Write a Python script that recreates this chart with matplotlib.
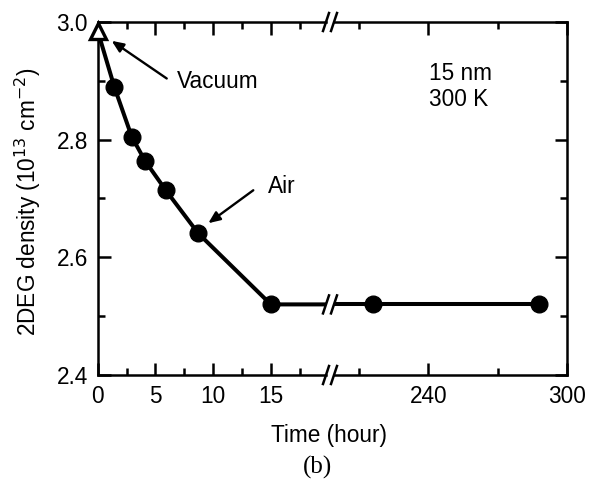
import matplotlib
matplotlib.use("Agg")
import matplotlib.pyplot as plt
from matplotlib.ticker import MultipleLocator

plt.rcParams["font.family"] = ["Liberation Sans", "DejaVu Sans"]

# data
vac_time = [0.0]
vac_density = [2.985]
air_time = [1.45, 2.95, 4.1, 5.9, 8.7, 15.0, 216.0, 288.0]
air_density = [2.889, 2.805, 2.764, 2.714, 2.641, 2.52, 2.52, 2.52]

all_time = vac_time + air_time
all_density = vac_density + air_density

FS = 16.3
LW = 2.9
AX_LW = 1.8

fig = plt.figure(figsize=(5.93, 4.90), dpi=100)
ax1 = fig.add_axes([97.7 / 593, 115 / 490, (326 - 97.7) / 593, 353 / 490])
ax2 = fig.add_axes([334 / 593, 115 / 490, (567 - 334) / 593, 353 / 490])

ax1.set_xlim(0, 19.78)
ax2.set_xlim(199.2, 300)
for ax in (ax1, ax2):
    ax.set_ylim(2.4, 3.0)
    # line through all points, clipped at each segment's edge
    ax.plot(all_time, all_density, color="black", lw=LW, zorder=2)
    for s in ax.spines.values():
        s.set_linewidth(AX_LW)
    ax.yaxis.set_major_locator(MultipleLocator(0.2))
    ax.yaxis.set_minor_locator(MultipleLocator(0.1))
    ax.tick_params(which="both", direction="in", width=AX_LW,
                   labelsize=FS, top=True, pad=7)
    ax.tick_params(which="major", length=9)
    ax.tick_params(which="minor", length=5)

# markers only in their own segment
ax1.plot(vac_time, vac_density, linestyle="none", marker="^", ms=12,
         mfc="white", mec="black", mew=2.4, clip_on=False, zorder=4)
ax1.plot(air_time[:6], air_density[:6], linestyle="none", marker="o",
         ms=12, color="black", clip_on=False, zorder=3)
ax2.plot(air_time[6:], air_density[6:], linestyle="none", marker="o",
         ms=12, color="black", clip_on=False, zorder=3)

ax1.spines["right"].set_visible(False)
ax2.spines["left"].set_visible(False)
ax1.tick_params(which="both", right=False)
ax2.tick_params(which="both", left=False, labelleft=False, right=True)

ax1.xaxis.set_major_locator(MultipleLocator(5))
ax1.xaxis.set_minor_locator(MultipleLocator(2.5))
ax2.set_xticks([240, 300])
ax2.set_xticks([210, 270], minor=True)
ax1.set_yticks([2.4, 2.6, 2.8, 3.0])
ax1.set_yticklabels(["2.4", "2.6", "2.8", "3.0"])


# break marks "//"
def slash(ax, xa, y, on_spine):
    w = ax.get_position().width * 593
    dx = 3.0 / w
    if on_spine:
        dy = 9.0 / 353
        trans = ax.transAxes
    else:
        dy = 9.0 / 588.3
        trans = ax.get_yaxis_transform()
    ax.plot([xa - dx, xa + dx], [y - dy, y + dy], color="black",
            lw=1.8, transform=trans, clip_on=False, zorder=5)


for yy in (0, 1):
    slash(ax1, 1, yy, True)
    slash(ax2, 0, yy, True)
slash(ax1, 1, air_density[5], False)
slash(ax2, 0, air_density[5], False)

# annotations
arrow = dict(arrowstyle="-|>,head_length=0.7,head_width=0.3",
             color="black", lw=1.7, shrinkA=0, shrinkB=0)
ax1.annotate("", xy=(1.21, 2.968), xytext=(5.98, 2.904), arrowprops=arrow)
ax1.text(6.85, 2.899, "Vacuum", fontsize=FS, va="center", ha="left")
ax1.annotate("", xy=(9.58, 2.658), xytext=(13.48, 2.714), arrowprops=arrow)
ax1.text(14.78, 2.72, "Air", fontsize=FS, va="center", ha="left")

ax2.text(240.3, 2.89, "15 nm\n300 K", fontsize=FS, va="center", ha="left",
         linespacing=1.15)

fig.text(329 / 593, 1 - 435 / 490, "Time (hour)", fontsize=FS,
         ha="center", va="center")
fig.text(28 / 593, 1 - 202 / 490, r"2DEG density (10$^{13}$ cm$^{-2}$)",
         fontsize=FS, ha="center", va="center", rotation=90)
fig.text(318 / 593, 1 - 467 / 490, "(b)", fontsize=18,
         family="Liberation Serif", ha="center", va="center")

fig.savefig("out.png", dpi=100)
